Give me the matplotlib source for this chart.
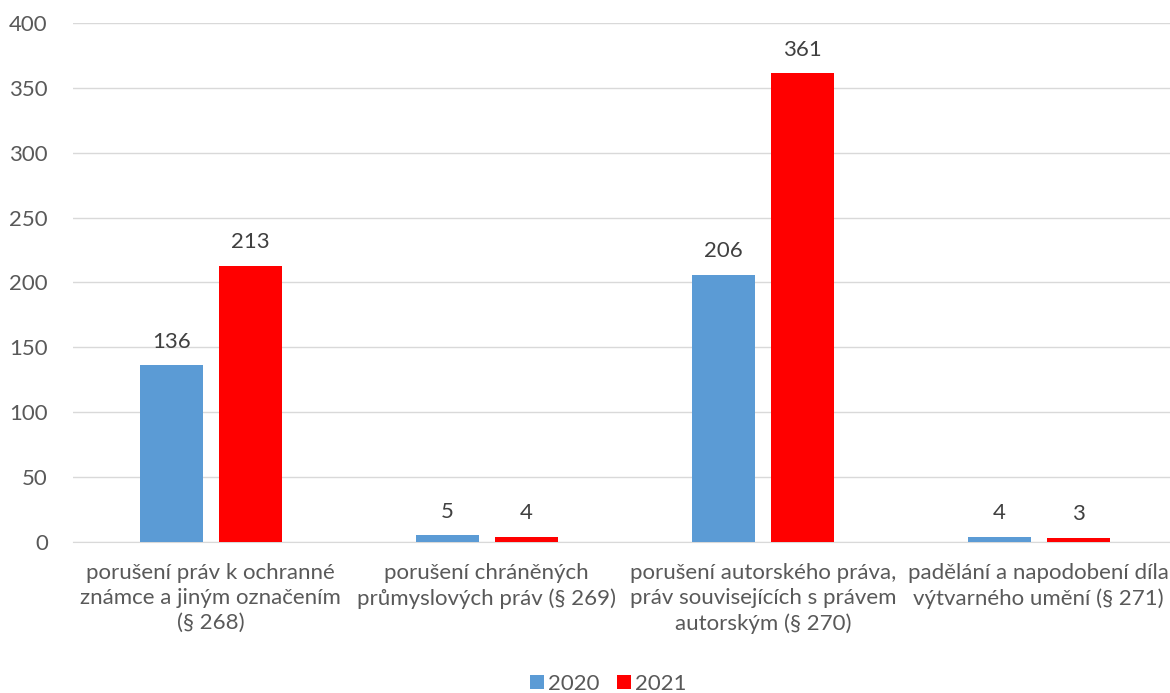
import matplotlib
matplotlib.use("Agg")
import matplotlib.pyplot as plt
import numpy as np

categories = [
    "porušení práv k ochranné\nznámce a jiným označením\n(§ 268)",
    "porušení chráněných\nprůmyslových práv (§ 269)",
    "porušení autorského práva,\npráv souvisejících s právem\nautorským (§ 270)",
    "padělání a napodobení díla\nvýtvarného umění (§ 271)",
]
series_names = ["2020", "2021"]
values_2020 = [136, 5, 206, 4]
values_2021 = [213, 4, 361, 3]
yticks = [0, 50, 100, 150, 200, 250, 300, 350, 400]

colors = ["#5B9BD5", "#FF0000"]
text_color = "#595959"
plt.rcParams['font.family'] = ['Lato', 'DejaVu Sans']

fig = plt.figure(figsize=(11.7, 6.93), dpi=100)
ax = fig.add_axes([0.0622, 0.218, 0.9436, 0.749])

x = np.arange(len(categories))
w = 0.228
off = 0.143
for vals, name, c, o in [(values_2020, series_names[0], colors[0], -off),
                         (values_2021, series_names[1], colors[1], off)]:
    bars = ax.bar(x + o, vals, w, color=c, label=name, zorder=3)
    for b, v in zip(bars, vals):
        ax.annotate(str(v), (b.get_x() + b.get_width() / 2, v), xytext=(0, 10),
                    textcoords="offset points", ha="center", va="bottom",
                    fontsize=16, color="#404040")

ax.set_xlim(-0.5, len(categories) - 0.5)
ax.set_ylim(0, 400)
ax.set_yticks(yticks)
ax.set_xticks(x)
ax.set_xticklabels(categories, fontsize=16, color=text_color, linespacing=1.33)
ax.tick_params(axis='y', labelsize=16, labelcolor=text_color, length=0, pad=18)
ax.tick_params(axis='x', length=0, pad=15)
ax.grid(axis='y', color="#D9D9D9", linewidth=1, zorder=0)
for s in ["top", "right", "left"]:
    ax.spines[s].set_visible(False)
ax.spines["bottom"].set_color("#D9D9D9")

leg = fig.legend(loc="lower center", bbox_to_anchor=(0.52, -0.03), ncol=2, frameon=False,
                 fontsize=16, handlelength=0.6, handleheight=0.6, handletextpad=0.2,
                 columnspacing=0.8)
for t in leg.get_texts():
    t.set_color(text_color)

fig.savefig("out.png", dpi=100)
